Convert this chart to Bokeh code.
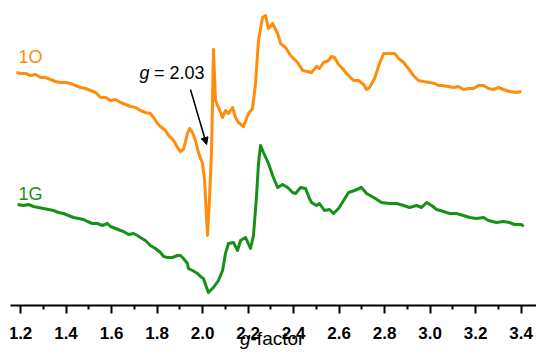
from bokeh.plotting import figure
from bokeh.layouts import column
from bokeh.models import Range1d, FixedTicker, Label, Arrow, NormalHead
from bokeh.core.properties import value
from bokeh.embed import file_html
from bokeh.resources import INLINE

# ---- data (g-factor vs. EPR intensity, arbitrary units) ----
g_1O = [1.182, 1.200, 1.222, 1.244, 1.266, 1.288, 1.310, 1.332, 1.354, 1.376,
        1.398, 1.420, 1.442, 1.464, 1.486, 1.508, 1.530, 1.552, 1.574, 1.596,
        1.618, 1.640, 1.662, 1.684, 1.706, 1.727, 1.749, 1.771, 1.785, 1.802,
        1.815, 1.837, 1.851, 1.873, 1.890, 1.903, 1.916, 1.934, 1.943, 1.956,
        1.969, 1.982,
        2.000, 2.009, 2.013, 2.022, 2.031, 2.040, 2.044, 2.048, 2.057, 2.070,
        2.088, 2.101, 2.114, 2.132, 2.145, 2.158, 2.180, 2.202, 2.220, 2.233,
        2.246, 2.264, 2.277, 2.290, 2.308, 2.330, 2.343, 2.365, 2.387, 2.418,
        2.440, 2.462, 2.479, 2.501, 2.514, 2.532, 2.554, 2.567, 2.580, 2.598,
        2.611, 2.633, 2.664, 2.686, 2.708, 2.721, 2.734, 2.756, 2.778, 2.796,
        2.818, 2.844, 2.862, 2.884, 2.905, 2.927, 2.949, 2.971, 2.998, 3.020,
        3.037, 3.051, 3.081, 3.103, 3.125, 3.147, 3.169, 3.191, 3.213, 3.235,
        3.257, 3.279, 3.301, 3.323, 3.349, 3.380, 3.402]
int_1O = [232, 231, 231, 229, 230, 227, 227, 225, 223, 222,
          222, 221, 219, 217, 216, 214, 212, 207, 207, 204,
          205, 202, 200, 198, 197, 194, 192, 191, 187, 181,
          178, 174, 169, 164, 157, 153, 155, 171, 176, 172,
          164, 152,
          141, 124, 107, 69, 107, 156, 204, 255, 204, 197,
          187, 194, 191, 197, 187, 182, 178, 191, 196, 221,
          264, 287, 289, 276, 281, 271, 261, 257, 249, 242,
          234, 233, 232, 238, 236, 242, 244, 248, 247, 240,
          237, 231, 224, 224, 220, 215, 217, 226, 241, 251,
          251, 251, 246, 242, 236, 229, 224, 223, 222, 221,
          219, 219, 218, 217, 218, 215, 216, 216, 219, 219,
          216, 215, 217, 215, 213, 212, 213]

g_1G = [1.187, 1.213, 1.235, 1.257, 1.279, 1.301, 1.323, 1.345, 1.367, 1.389,
        1.411, 1.433, 1.455, 1.477, 1.495, 1.516, 1.538, 1.560, 1.582, 1.596,
        1.618, 1.640, 1.653, 1.675, 1.697, 1.714, 1.727, 1.749, 1.771, 1.793,
        1.815, 1.829, 1.846, 1.868, 1.890, 1.903, 1.916, 1.934, 1.938, 1.956,
        1.978, 1.991, 2.004, 2.018, 2.026, 2.048, 2.070, 2.088, 2.101, 2.114,
        2.136, 2.154, 2.167, 2.189, 2.211, 2.224, 2.237, 2.246, 2.255, 2.268,
        2.290, 2.308, 2.330, 2.352, 2.374, 2.396, 2.409, 2.431, 2.453, 2.470,
        2.479, 2.501, 2.514, 2.536, 2.558, 2.576, 2.598, 2.620, 2.642, 2.668,
        2.699, 2.721, 2.752, 2.787, 2.822, 2.853, 2.884, 2.910, 2.941, 2.963,
        2.985, 3.007, 3.029, 3.059, 3.086, 3.116, 3.147, 3.174, 3.204, 3.235,
        3.257, 3.292, 3.323, 3.349, 3.371, 3.402, 3.411]
int_1G = [100, 99, 100, 98, 97, 96, 95, 94, 92, 91,
          89, 87, 86, 85, 83, 81, 81, 79, 81, 78,
          76, 74, 73, 70, 71, 69, 67, 64, 59, 56,
          52, 48, 47, 47, 49, 49, 46, 41, 36, 34,
          31, 28, 26, 17, 12, 17, 24, 34, 51, 61,
          62, 54, 64, 67, 56, 69, 107, 141, 159, 152,
          141, 129, 117, 120, 117, 112, 111, 117, 116, 106,
          102, 99, 101, 94, 95, 91, 96, 104, 112, 114,
          117, 111, 107, 102, 101, 101, 99, 97, 99, 97,
          102, 99, 95, 93, 91, 91, 89, 87, 86, 87,
          84, 82, 83, 82, 80, 80, 78]

major_ticks = [1.2, 1.4, 1.6, 1.8, 2.0, 2.2, 2.4, 2.6, 2.8, 3.0, 3.2, 3.4]
tick_labels = ["1.2", "1.4", "1.6", "1.8", "2.0", "2.2", "2.4", "2.6", "2.8", "3.0", "3.2", "3.4"]
minor_ticks = [1.3, 1.5, 1.7, 1.9, 2.1, 2.3, 2.5, 2.7, 2.9, 3.1, 3.3]
series_names = ["1O", "1G"]
annot_text = "= 2.03"

ORANGE = "#ff8c0a"
GREEN = "#17901a"
FONT = "Liberation Sans"

xr = Range1d(1.156, 3.468)

# ---------------- main plot (curves + axis line/ticks) ----------------
p = figure(width=536, height=316, output_backend="svg", toolbar_location=None,
           x_range=xr, y_range=Range1d(-1, 304),
           y_axis_location=None,
           min_border_left=10, min_border_right=0, min_border_top=0,
           min_border_bottom=11)
p.outline_line_color = None
p.grid.visible = False

p.line(g_1O, int_1O, line_color=ORANGE, line_width=3, line_join="round")
p.line(g_1G, int_1G, line_color=GREEN, line_width=3, line_join="round")

ax = p.xaxis[0]
ax.ticker = FixedTicker(ticks=major_ticks, minor_ticks=minor_ticks)
ax.major_label_overrides = {t: "" for t in major_ticks}
ax.major_label_text_font_size = "1px"
ax.major_label_standoff = 0
ax.axis_line_width = 2
ax.axis_line_color = "black"
ax.major_tick_line_width = 2
ax.minor_tick_line_width = 2
ax.major_tick_in = 0
ax.major_tick_out = 8
ax.minor_tick_in = 0
ax.minor_tick_out = 4

# series labels
p.add_layout(Label(x=1.191, y=238, text=series_names[0], text_font=FONT,
                   text_font_size="18px", text_color=ORANGE))
p.add_layout(Label(x=1.191, y=101, text=series_names[1], text_font=FONT,
                   text_font_size="18px", text_color=GREEN))

# g = 2.03 annotation
p.add_layout(Label(x=1.723, y=222, text="g", text_font=FONT, text_font_size="18px",
                   text_font_style="italic", text_color="black"))
p.add_layout(Label(x=1.787, y=222, text=annot_text, text_font=FONT, text_font_size="18px",
                   text_color="black"))
p.add_layout(Arrow(x_start=1.947, y_start=215, x_end=2.018, y_end=160,
                   line_width=1.5, line_color="black",
                   end=NormalHead(size=7, line_color="black", fill_color="black", line_width=1)))

# ---------------- strip below: tick labels + axis title ----------------
q = figure(width=536, height=37, output_backend="svg", toolbar_location=None,
           x_range=xr, y_range=Range1d(0, 37),
           x_axis_location=None, y_axis_location=None,
           min_border_left=10, min_border_right=0, min_border_top=0, min_border_bottom=0)
q.outline_line_color = None
q.grid.visible = False
q.text(x=major_ticks, y=[21] * len(major_ticks), text=tick_labels,
       text_font=value(FONT), text_font_size="17px", text_font_style="bold",
       text_color="black", text_align="center", text_baseline="alphabetic")
q.add_layout(Label(x=2.211, y=4.5, text="g", text_font=FONT, text_font_size="19px",
                   text_font_style="italic", text_align="right", text_color="black"))
q.add_layout(Label(x=2.211, y=4.5, text="-factor", text_font=FONT, text_font_size="19px",
                   text_align="left", text_color="black"))

layout = column(p, q, spacing=0)
open("out.html", "w").write(file_html(layout, INLINE))
